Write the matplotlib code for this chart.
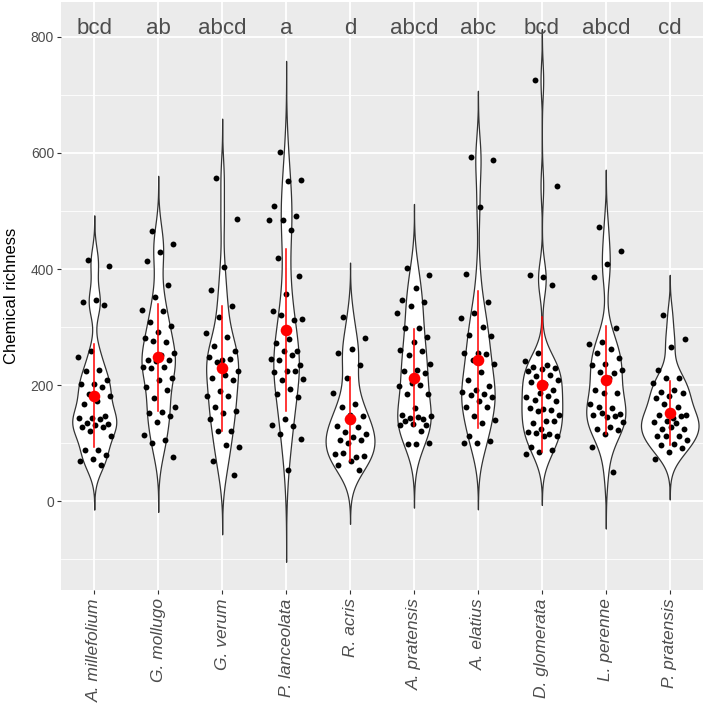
"""
Violin plot of chemical richness per plant species,
with jittered samples, mean +/- sd in red and significance letters on top.
Saved to out.png
"""

import numpy as np
import matplotlib
import matplotlib.pyplot as plt
from matplotlib.ticker import MultipleLocator

matplotlib.use("Agg")

plt.rcParams["font.family"] = ["Liberation Sans", "DejaVu Sans"]

SPECIES = ["A. millefolium", "G. mollugo", "G. verum", "P. lanceolata", "R. acris",
           "A. pratensis", "A. elatius", "D. glomerata", "L. perenne", "P. pratensis"]
LETTERS = ["bcd", "ab", "abcd", "a", "d", "abcd", "abc", "bcd", "abcd", "cd"]

# richness values, one list per species
a_millefolium = [416, 406, 347, 344, 338, 259, 249, 226, 224, 208, 202, 202, 197, 185,
                 182, 172, 167, 146, 144, 143, 142, 134, 133, 131, 128, 128, 121, 112,
                 89, 89, 79, 73, 69, 62]
g_mollugo = [466, 443, 430, 414, 372, 351, 329, 328, 308, 302, 291, 282, 274, 276, 256,
             252, 244, 244, 242, 231, 232, 230, 213, 208, 197, 192, 177, 163, 153, 152,
             147, 137, 114, 106, 100, 76]
g_verum = [557, 486, 403, 363, 337, 318, 289, 283, 268, 258, 243, 249, 245, 240, 225,
           218, 213, 208, 189, 181, 182, 163, 156, 152, 142, 121, 121, 94, 96, 69, 45]
p_lanceolata = [601, 554, 551, 509, 492, 485, 485, 468, 419, 388, 357, 328, 312, 321,
                314, 280, 272, 259, 258, 245, 252, 243, 234, 225, 222, 224, 208, 211,
                193, 185, 180, 142, 132, 129, 115, 108, 53]
r_acris = [318, 281, 263, 255, 234, 213, 186, 167, 163, 146, 148, 130, 128, 119, 115,
           110, 106, 105, 100, 81, 76, 83, 77, 70, 62, 54]
a_pratensis = [402, 390, 368, 346, 344, 337, 324, 299, 299, 283, 275, 260, 259, 251,
               237, 226, 224, 220, 203, 199, 201, 185, 185, 160, 149, 142, 144, 146,
               145, 138, 132, 133, 131, 121, 99, 100, 99]
a_elatius = [593, 588, 506, 392, 344, 325, 315, 300, 287, 285, 255, 256, 254, 243, 237,
             222, 209, 199, 192, 188, 185, 183, 180, 173, 163, 162, 146, 140, 134, 113,
             104, 101, 100]
d_glomerata = [725, 543, 387, 389, 373, 255, 242, 235, 232, 230, 228, 225, 218, 216,
               208, 202, 205, 191, 186, 180, 182, 175, 172, 159, 160, 157, 155, 148,
               139, 134, 138, 125, 119, 116, 117, 113, 112, 93, 88, 85, 82]
l_perenne = [473, 431, 408, 387, 299, 274, 271, 262, 256, 246, 237, 234, 220, 223, 226,
             212, 191, 186, 187, 168, 161, 163, 151, 145, 148, 146, 152, 136, 128, 125,
             122, 116, 94, 51]
p_pratensis = [320, 280, 266, 226, 213, 213, 203, 191, 188, 186, 182, 178, 162, 167,
               149, 144, 148, 146, 138, 136, 135, 125, 125, 127, 112, 113, 113, 105,
               99, 97, 91, 84, 73]

POINTS = [a_millefolium, g_mollugo, g_verum, p_lanceolata, r_acris,
          a_pratensis, a_elatius, d_glomerata, l_perenne, p_pratensis]

# red summary: mean and sd per species
MEANS = [182, 248, 229, 295, 142, 213, 244, 201, 209, 152]
SDS = [88.7, 92.2, 107.9, 138.8, 72.1, 83.0, 117.3, 115.9, 93.0, 55.8]

# kernel bandwidth per violin, from the tail lengths in the picture
BANDWIDTHS = [25.5, 31.5, 34.0, 52.5, 31.0, 36.7, 38.0, 29.5, 32.7, 23.3]


def kde(values, bw, n=512):
    v = np.asarray(values, dtype=float)
    grid = np.linspace(v.min() - 3 * bw, v.max() + 3 * bw, n)
    z = (grid[:, None] - v[None, :]) / bw
    dens = np.exp(-0.5 * z ** 2).sum(axis=1) / (len(v) * bw * np.sqrt(2 * np.pi))
    return grid, dens


def main():
    fig = plt.figure(figsize=(7.09, 7.04), dpi=100)
    W, H = 709, 704
    left, right, top, bottom = 61, 703, 2, 590
    ax = fig.add_axes([left / W, 1 - bottom / H, (right - left) / W, (bottom - top) / H])
    ax.set_facecolor("#EBEBEB")
    for s in ax.spines.values():
        s.set_visible(False)

    # densities, scaled like ggplot's scale = "area"
    curves = [kde(vals, bw) for vals, bw in zip(POINTS, BANDWIDTHS)]
    gmax = max(d.max() for _, d in curves)

    xpos = np.arange(1, len(SPECIES) + 1)
    for x, (grid, dens) in zip(xpos, curves):
        hw = dens / gmax * 0.45
        ax.fill_betweenx(grid, x - hw, x + hw, facecolor="white",
                         edgecolor="#333333", linewidth=0.9, zorder=2)

    # jittered points (deterministic spread)
    for x, vals in zip(xpos, POINTS):
        k = np.arange(len(vals))
        jit = ((k * 0.6180339887 + 0.31) % 1.0 - 0.5) * 0.54
        ax.scatter(x + jit, vals, s=18, color="black", linewidths=0, zorder=3)

    # mean +/- sd
    for x, m, sd in zip(xpos, MEANS, SDS):
        ax.plot([x, x], [m - sd, m + sd], color="red", linewidth=1.1, zorder=4)
    ax.scatter(xpos, MEANS, s=70, color="red", linewidths=0, zorder=5)

    for x, lab in zip(xpos, LETTERS):
        ax.text(x, 805, lab, ha="center", va="baseline", fontsize=16,
                color="#4D4D4D", zorder=6)

    ax.set_xlim(0.48, 10.52)
    ax.set_ylim(-153, 860)
    ax.yaxis.set_major_locator(MultipleLocator(200))
    ax.yaxis.set_minor_locator(MultipleLocator(100))
    ax.set_xticks(xpos)
    ax.set_xticklabels(SPECIES, rotation=90, style="italic", fontsize=12.5,
                       color="#4D4D4D", va="top", ha="center")
    ax.tick_params(axis="y", which="major", length=3, color="#333333",
                   labelsize=10, labelcolor="#4D4D4D", pad=2)
    ax.tick_params(axis="y", which="minor", length=0)
    ax.tick_params(axis="x", length=3, color="#333333", pad=3)

    ax.grid(True, which="major", color="white", linewidth=1.3, zorder=0)
    ax.grid(True, which="minor", axis="y", color="white", linewidth=0.6, zorder=0)
    ax.set_axisbelow(True)

    ax.set_ylabel("Chemical richness", fontsize=12, color="black")
    ax.yaxis.set_label_coords(-0.066, 0.5)

    fig.savefig("out.png", dpi=100)
    plt.close(fig)


if __name__ == "__main__":
    main()
